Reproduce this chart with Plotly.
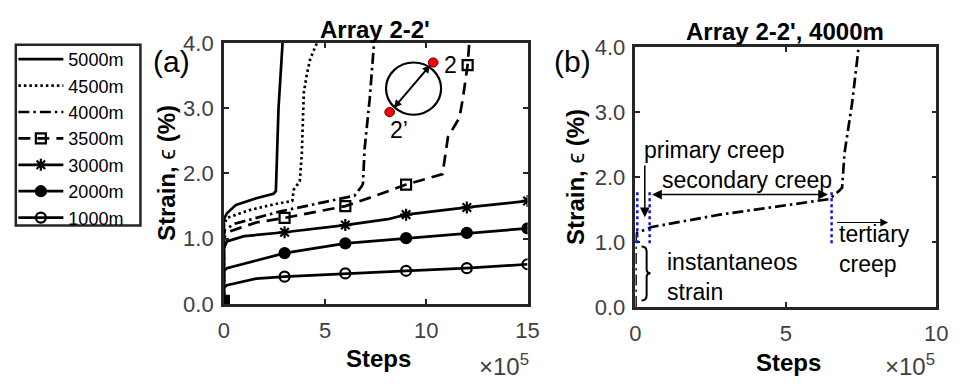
import plotly.graph_objects as go

# ---------------- data (steps in units of 1e5) ----------------
s5000_x = [0, 0, 0.15, 0.6, 1.6, 2.45, 2.57, 2.62, 2.7, 2.8, 2.9]
s5000_y = [0, 1.3, 1.39, 1.52, 1.62, 1.69, 1.73, 2.3, 3.0, 3.5, 4.0]

s4500_x = [0, 0, 0.15, 1.27, 2.5, 3.38, 3.45, 3.75, 3.85, 3.95, 4.1, 4.27, 4.6]
s4500_y = [0, 1.2, 1.32, 1.44, 1.53, 1.58, 1.75, 1.88, 2.3, 3.24, 3.52, 3.76, 4.0]

s4000_x = [0, 0, 0.05, 0.54, 2.8, 4.9, 6.45, 6.8, 6.87, 6.95, 7.1, 7.2, 7.42]
s4000_y = [0, 1.05, 1.14, 1.23, 1.42, 1.56, 1.66, 1.8, 1.84, 2.37, 2.8, 3.13, 4.0]

s3500_x = [0, 0, 0.15, 1.6, 3, 6, 7.5, 9, 10.8, 11.07, 11.63, 11.8, 12.04, 12.12]
s3500_y = [0, 1.0, 1.1, 1.25, 1.32, 1.5, 1.66, 1.83, 1.99, 2.56, 2.85, 3.14, 3.66, 4.0]
m3500_x = [0, 3, 6, 9, 12.04]
m3500_y = [0.05, 1.32, 1.5, 1.83, 3.66]

s3000_x = [0, 0, 0.15, 1.0, 3, 6, 8.1, 9, 12, 15]
s3000_y = [0, 0.85, 0.96, 1.04, 1.1, 1.21, 1.3, 1.37, 1.48, 1.58]
m3000_x = [0, 3, 6, 9, 12, 15]
m3000_y = [0.05, 1.1, 1.21, 1.37, 1.48, 1.58]

s2000_x = [0, 0, 0.15, 1.6, 3, 6, 9, 12, 15]
s2000_y = [0, 0.5, 0.55, 0.67, 0.78, 0.93, 1.01, 1.09, 1.16]
m2000_x = [0, 3, 6, 9, 12, 15]
m2000_y = [0.05, 0.78, 0.93, 1.01, 1.09, 1.16]

s1000_x = [0, 0, 0.15, 1.6, 3, 6, 9, 12, 15]
s1000_y = [0, 0.25, 0.29, 0.39, 0.42, 0.47, 0.51, 0.55, 0.61]
m1000_x = [0, 3, 6, 9, 12, 15]
m1000_y = [0.05, 0.42, 0.47, 0.51, 0.55, 0.61]

labels = ["5000m", "4500m", "4000m", "3500m", "3000m", "2000m", "1000m"]

FONT = "Liberation Sans, Arial, sans-serif"
INK = "#262626"
LW = 2.7

styles = {
    "5000m": dict(dash="solid", symbol=None),
    "4500m": dict(dash="2.5px,3px", symbol=None),
    "4000m": dict(dash="11px,4px,2.5px,4px", symbol=None),
    "3500m": dict(dash="12px,7px", symbol="square-open"),
    "3000m": dict(dash="solid", symbol="asterisk-open"),
    "2000m": dict(dash="solid", symbol="circle"),
    "1000m": dict(dash="solid", symbol="circle-open"),
}
lines = {
    "5000m": (s5000_x, s5000_y, None, None),
    "4500m": (s4500_x, s4500_y, None, None),
    "4000m": (s4000_x, s4000_y, None, None),
    "3500m": (s3500_x, s3500_y, m3500_x, m3500_y),
    "3000m": (s3000_x, s3000_y, m3000_x, m3000_y),
    "2000m": (s2000_x, s2000_y, m2000_x, m2000_y),
    "1000m": (s1000_x, s1000_y, m1000_x, m1000_y),
}

fig = go.Figure()
for name in labels:
    lx, ly, mx, my = lines[name]
    st = styles[name]
    fig.add_trace(go.Scatter(x=lx, y=ly, mode="lines", showlegend=False,
                             line=dict(color="black", width=LW, dash=st["dash"]),
                             xaxis="x", yaxis="y", hoverinfo="skip"))
    if mx is not None:
        fig.add_trace(go.Scatter(x=mx, y=my, mode="markers", showlegend=False,
                                 marker=dict(symbol=st["symbol"], size=10, color="black",
                                             line=dict(color="black", width=2.2)),
                                 xaxis="x", yaxis="y", hoverinfo="skip"))
    # legend entry
    fig.add_trace(go.Scatter(x=[None], y=[None], name=name,
                             mode="lines+markers" if st["symbol"] else "lines",
                             line=dict(color="black", width=LW, dash=st["dash"]),
                             marker=dict(symbol=st["symbol"] or "circle", size=10, color="black",
                                         line=dict(color="black", width=2.2)),
                             xaxis="x", yaxis="y"))

# panel (b)
fig.add_trace(go.Scatter(x=s4000_x, y=s4000_y, mode="lines", showlegend=False,
                         line=dict(color="black", width=LW, dash="11px,4px,2.5px,4px"),
                         xaxis="x2", yaxis="y2", hoverinfo="skip"))

W, H = 962, 392
def px(v):
    return v / W
def py(v):
    return 1 - v / H

axis_common = dict(showline=True, linecolor=INK, linewidth=2.5, mirror="ticks",
                   ticks="inside", ticklen=5, tickwidth=2, tickcolor=INK,
                   showgrid=False, zeroline=False,
                   tickfont=dict(family=FONT, size=22, color="#404040"))

fig.update_layout(
    width=W, height=H, margin=dict(l=0, r=0, t=0, b=0),
    plot_bgcolor="white", paper_bgcolor="white",
    xaxis=dict(domain=[px(222), px(531.5)], range=[0, 15], tickvals=[0, 5, 10, 15],
               anchor="y", ticklabelstandoff=5, **axis_common),
    yaxis=dict(domain=[py(312), py(33)], range=[0, 4], tickvals=[0, 1, 2, 3, 4],
               tickformat=".1f", anchor="x", ticklabelstandoff=3, **axis_common),
    xaxis2=dict(domain=[px(641.5), px(948)], range=[0, 10], tickvals=[0, 5, 10],
                anchor="y2", ticklabelstandoff=5, **axis_common),
    yaxis2=dict(domain=[py(315), py(37.5)], range=[0, 4], tickvals=[0, 1, 2, 3, 4],
                tickformat=".1f", anchor="x2", ticklabelstandoff=3, **axis_common),
    legend=dict(x=px(7.5), y=py(31), xanchor="left", yanchor="top",
                borderwidth=0, bgcolor="rgba(0,0,0,0)",
                font=dict(family=FONT, size=18, color="black"),
                itemwidth=45, tracegroupgap=0),
    showlegend=True,
)

ann = []
def text(x, y, s, size=19, angle=0, xanchor="center", color="black"):
    ann.append(dict(x=px(x), y=py(y), xref="paper", yref="paper", text=s, showarrow=False,
                    font=dict(family=FONT, size=size, color=color), textangle=angle,
                    xanchor=xanchor, yanchor="middle"))

text(376, 19, "<b>Array 2-2'</b>", size=24)
text(794, 21, "<b>Array 2-2', 4000m</b>", size=24)
text(169, 53, "(a)", size=30)
text(577, 53, "(b)", size=30)
text(163, 172, "<b>Strain,</b> ϵ <b>(%)</b>", size=24, angle=-90)
text(581, 176, "<b>Strain,</b> ϵ <b>(%)</b>", size=24, angle=-90)
text(380, 370, "<b>Steps</b>", size=24)
text(797, 374, "<b>Steps</b>", size=24)
text(507, 377, "×10<sup>5</sup>", size=24, color="#404040")
text(921, 377, "×10<sup>5</sup>", size=24, color="#404040")

# inset in (a)
ann.append(dict(x=10.2, y=3.66, ax=8.33, ay=2.98, xref="x", yref="y", axref="x", ayref="y",
                showarrow=True, arrowhead=2, arrowside="end+start", arrowsize=0.8,
                arrowwidth=2, arrowcolor="black", text=""))
ann.append(dict(x=11.2, y=3.66, xref="x", yref="y", text="2", showarrow=False,
                font=dict(family=FONT, size=23, color="black")))
ann.append(dict(x=8.65, y=2.66, xref="x", yref="y", text="2’", showarrow=False,
                font=dict(family=FONT, size=23, color="black")))

# panel (b) annotations
AF = dict(family=FONT, size=23, color="black")
def btext(x, y, s):
    ann.append(dict(x=x, y=y, xref="x2", yref="y2", text=s, showarrow=False,
                    xanchor="left", align="left", font=AF))
ann.append(dict(x=0.31, y=1.38, ax=0.31, ay=2.2, xref="x2", yref="y2", axref="x2", ayref="y2",
                showarrow=True, arrowhead=2, arrowsize=1.3, arrowwidth=1.5, arrowcolor="black", text=""))
btext(0.2, 2.42, "primary creep")
ann.append(dict(x=0.55, y=1.73, ax=6.45, ay=1.73, xref="x2", yref="y2", axref="x2", ayref="y2",
                showarrow=True, arrowhead=2, arrowside="end+start", arrowsize=1.3,
                arrowwidth=1.5, arrowcolor="black", text=""))
btext(0.82, 1.96, "secondary creep")
ann.append(dict(x=8.4, y=1.3, ax=6.65, ay=1.3, xref="x2", yref="y2", axref="x2", ayref="y2",
                showarrow=True, arrowhead=2, arrowsize=1.3, arrowwidth=1.2, arrowcolor="black", text=""))
btext(6.7, 0.89, "tertiary<br>creep")
btext(0.99, 0.46, "instantaneos<br>strain")
fig.update_layout(annotations=ann)

shapes = [
    # legend frame
    dict(type="rect", xref="paper", yref="paper", x0=px(10), x1=px(137), y0=py(228), y1=py(35),
         line=dict(color=INK, width=2.5), layer="below"),
    dict(type="circle", xref="x", yref="y", x0=9.37 - 1.36, x1=9.37 + 1.36, y0=3.3 - 0.4, y1=3.3 + 0.4,
         line=dict(color="black", width=2.2)),
    dict(type="circle", xref="x", yref="y", x0=10.34 - 0.24, x1=10.34 + 0.24, y0=3.7 - 0.07, y1=3.7 + 0.07,
         fillcolor="red", line=dict(color="#600", width=1)),
    dict(type="circle", xref="x", yref="y", x0=8.19 - 0.24, x1=8.19 + 0.24, y0=2.94 - 0.07, y1=2.94 + 0.07,
         fillcolor="red", line=dict(color="#600", width=1)),
]
for xv in [0.06, 0.47, 6.52]:
    shapes.append(dict(type="line", xref="x2", yref="y2", x0=xv, x1=xv, y0=0.98, y1=1.8,
                       line=dict(color="#1010e0", width=2.5, dash="dot")))
# brace
shapes.append(dict(type="path", xref="x2", yref="y2",
                   path="M 0.2,0.93 Q 0.37,0.93 0.37,0.85 L 0.37,0.58 Q 0.37,0.52 0.5,0.52 "
                        "Q 0.37,0.52 0.37,0.46 L 0.37,0.18 Q 0.37,0.1 0.2,0.1",
                   line=dict(color="black", width=2)))
fig.update_layout(shapes=shapes)

fig.write_html("out.html")
